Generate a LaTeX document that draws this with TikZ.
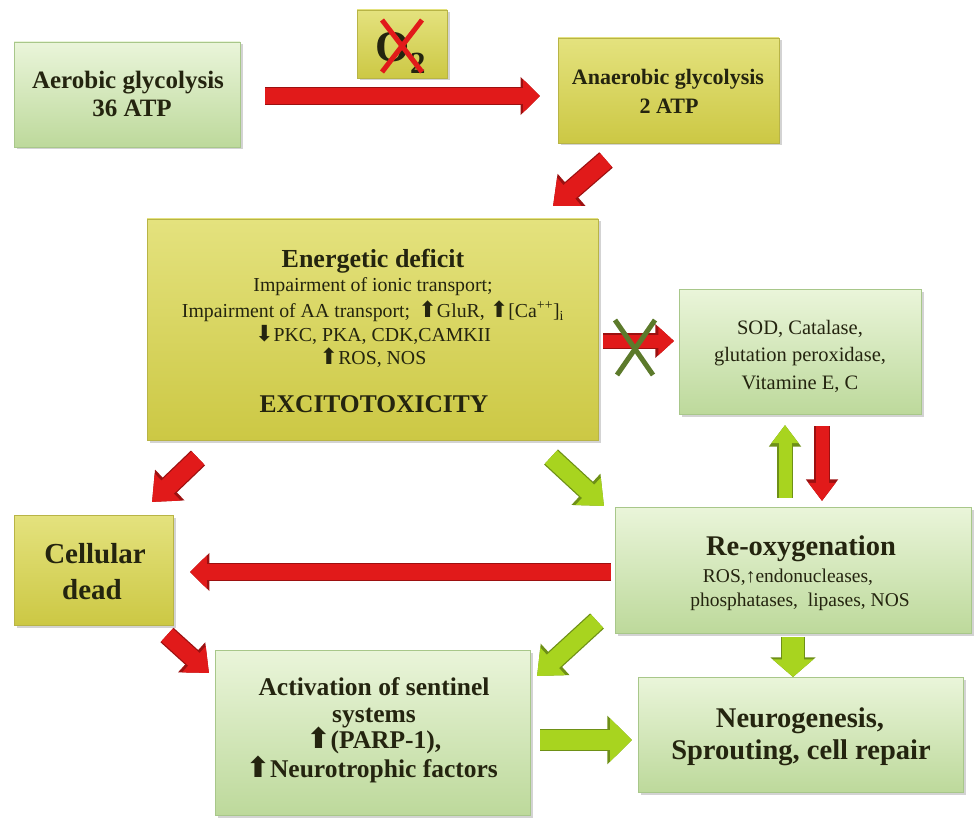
\documentclass[tikz,border=0pt]{standalone}
\usepackage{fontspec}
\setmainfont{Liberation Serif}
\newfontfamily\arrfont[Scale=1.12]{DejaVu Sans}
\usetikzlibrary{arrows.meta,shadows}
\definecolor{yTop}{HTML}{E4E27E}
\definecolor{yBot}{HTML}{CCC844}
\definecolor{yEdge}{HTML}{B8B446}
\definecolor{gTop}{HTML}{EAF5DA}
\definecolor{gBot}{HTML}{BDD99B}
\definecolor{gEdge}{HTML}{A8C78A}
\definecolor{txt}{HTML}{24240F}
\definecolor{arRed}{HTML}{E11A1A}
\definecolor{arRedD}{HTML}{9C1010}
\definecolor{arGrn}{HTML}{A8D41F}
\definecolor{arGrnD}{HTML}{6E9016}
\definecolor{xGrn}{HTML}{5C7A2B}
\newcommand\UParr{{\arrfont ⬆}}
\newcommand\DNarr{{\arrfont ⬇}}
\newcommand\fTitle[1]{\fontsize{#1}{#1}\selectfont\bfseries}
\newcommand\fBody[1]{\fontsize{#1}{#1}\selectfont}
\tikzset{
  box/.style={inner sep=0pt, draw, line width=0.8pt,
    drop shadow={shadow xshift=2.5pt, shadow yshift=-2.5pt, opacity=0.35}},
  ybox/.style={box, draw=yEdge, top color=yTop, bottom color=yBot},
  gbox/.style={box, draw=gEdge, top color=gTop, bottom color=gBot},
  lbl/.style={anchor=base, inner sep=0pt, text=txt},
  barrow/.style n args={5}{
    preaction={draw=#2, line width=#3+2.5pt, -{Triangle[length=0pt #4, width=0pt #5]}},
    draw=#1, line width=#3, -{Triangle[length=0pt #4, width=0pt #5]}},
  redA/.style n args={3}{barrow={arRed}{arRedD}{#1}{#2}{#3}},
  grnA/.style n args={3}{barrow={arGrn}{arGrnD}{#1}{#2}{#3}},
  crossline/.style={line width=5pt, line cap=butt}
}
\begin{document}
\begin{tikzpicture}[x=1pt,y=-1pt]
\useasboundingbox (0,0) rectangle (976,818);

% ---------- boxes ----------
\node[gbox, minimum width=226pt, minimum height=105pt] (aer) at (127,94.5) {};
\node[ybox, minimum width=90pt, minimum height=68pt] (oxy) at (402,44) {};
\node[ybox, minimum width=221pt, minimum height=105pt] (anaer) at (668.5,90.5) {};
\node[ybox, minimum width=451pt, minimum height=221pt] (ener) at (372.5,329.5) {};
\node[gbox, minimum width=242pt, minimum height=125pt] (sod) at (800,351.5) {};
\node[ybox, minimum width=159pt, minimum height=110pt] (cell) at (93.5,570) {};
\node[gbox, minimum width=356pt, minimum height=126pt] (reox) at (793,570) {};
\node[gbox, minimum width=315pt, minimum height=165pt] (act) at (372.5,732.5) {};
\node[gbox, minimum width=325pt, minimum height=115pt] (neuro) at (800.5,734.5) {};

% ---------- texts ----------
\node[lbl, font=\fTitle{25}] (aerT1) at (128,89) {Aerobic glycolysis};
\node[lbl, font=\fTitle{25}] (aerT2) at (132,117) {36 ATP};

\node[lbl, font=\fTitle{44}] (oxyT) at (401,62) {O\textsubscript{2}};
\draw[crossline, arRed] (oxy.center) ++(-20,-24) coordinate (ox1) -- ++(40,52) coordinate (ox2);
\draw[crossline, arRed] (oxy.center) ++(20,-24) coordinate (ox3) -- ++(-40,52) coordinate (ox4);

\node[lbl, font=\fTitle{22}] (anT1) at (668,85) {Anaerobic glycolysis};
\node[lbl, font=\fTitle{22}] (anT2) at (669,114) {2 ATP};

\node[lbl, font=\fTitle{26}] (enT1) at (373,267) {Energetic deficit};
\node[lbl, font=\fBody{19.8}] (enT2) at (373,291) {Impairment of ionic transport;};
\node[lbl, font=\fBody{19.8}] (enT3) at (373,317) {Impairment of AA transport; \,\UParr GluR, \UParr[Ca\textsuperscript{++}]\textsubscript{i}};
\node[lbl, font=\fBody{19.8}] (enT4) at (373,341) {\DNarr PKC, PKA, CDK,CAMKII};
\node[lbl, font=\fBody{19.8}] (enT5) at (373,364) {\UParr ROS, NOS};
\node[lbl, font=\fTitle{25.5}] (enT6) at (374,412) {EXCITOTOXICITY};

\node[lbl, font=\fBody{20.5}] (sodT1) at (800,334) {SOD, Catalase,};
\node[lbl, font=\fBody{20.5}] (sodT2) at (800,361) {glutation peroxidase,};
\node[lbl, font=\fBody{20.5}] (sodT3) at (800,389) {Vitamine E, C};

\node[lbl, font=\fTitle{29}] (cellT1) at (95,563) {Cellular};
\node[lbl, font=\fTitle{29}] (cellT2) at (92,599) {dead};

\node[lbl, font=\fTitle{28.5}] (reT1) at (801,555) {Re-oxygenation};
\node[lbl, font=\fBody{19.5}] (reT2) at (788,582) {ROS,\textuparrow endonucleases,};
\node[lbl, font=\fBody{19.5}] (reT3) at (800,606) {phosphatases,\ \ lipases,\ NOS};

\node[lbl, font=\fTitle{25.5}] (actT1) at (374,695) {Activation of sentinel};
\node[lbl, font=\fTitle{25.5}] (actT2) at (374,722) {systems};
\node[lbl, font=\fTitle{25.5}] (actT3) at (374,748) {\UParr(PARP-1),};
\node[lbl, font=\fTitle{25.5}] (actT4) at (372,777) {\UParr Neurotrophic factors};

\node[lbl, font=\fTitle{28.5}] (neT1) at (800,727) {Neurogenesis,};
\node[lbl, font=\fTitle{28.5}] (neT2) at (801,759) {Sprouting, cell repair};

% ---------- arrow end points ----------
\coordinate (a1s) at (265,96);  \coordinate (a1e) at (540,96);
\coordinate (a2s) at (606,160); \coordinate (a2e) at (553,206);
\coordinate (a3s) at (603,341); \coordinate (a3e) at (674,341);
\coordinate (a4s) at (785,498); \coordinate (a4e) at (785,425);
\coordinate (a5s) at (822,426); \coordinate (a5e) at (822,501);
\coordinate (a6s) at (198,458); \coordinate (a6e) at (152,502);
\coordinate (a7s) at (551,457); \coordinate (a7e) at (604,506);
\coordinate (a8s) at (611,572); \coordinate (a8e) at (190,572);
\coordinate (a9s) at (167,635); \coordinate (a9e) at (209,673);
\coordinate (a10s) at (597,621); \coordinate (a10e) at (537,676);
\coordinate (a11s) at (793,637); \coordinate (a11e) at (793,677);
\coordinate (a12s) at (540,740); \coordinate (a12e) at (632,740);

% ---------- arrows ----------
\draw[redA={16pt}{1.05}{2}] (a1s) -- (a1e);
\draw[redA={18pt}{1.2}{2}] (a2s) -- (a2e);
\draw[redA={13pt}{1.2}{2.1}] (a3s) -- (a3e);
\draw[grnA={13pt}{1.4}{2}] (a4s) -- (a4e);
\draw[redA={13pt}{1.4}{2}] (a5s) -- (a5e);
\draw[redA={18pt}{1.2}{2}] (a6s) -- (a6e);
\draw[grnA={18pt}{1.2}{2}] (a7s) -- (a7e);
\draw[redA={16pt}{1.05}{2}] (a8s) -- (a8e);
\draw[redA={17pt}{1.2}{2}] (a9s) -- (a9e);
\draw[grnA={18pt}{1.2}{2}] (a10s) -- (a10e);
\draw[grnA={22pt}{0.8}{1.8}] (a11s) -- (a11e);
\draw[grnA={20pt}{1.1}{2.1}] (a12s) -- (a12e);

% green cross over blocked arrow
\coordinate (gx1) at (615,320); \coordinate (gx2) at (653,375);
\coordinate (gx3) at (655,320); \coordinate (gx4) at (617,375);
\draw[crossline, xGrn] (gx1) -- (gx2);
\draw[crossline, xGrn] (gx3) -- (gx4);
\end{tikzpicture}
\end{document}
